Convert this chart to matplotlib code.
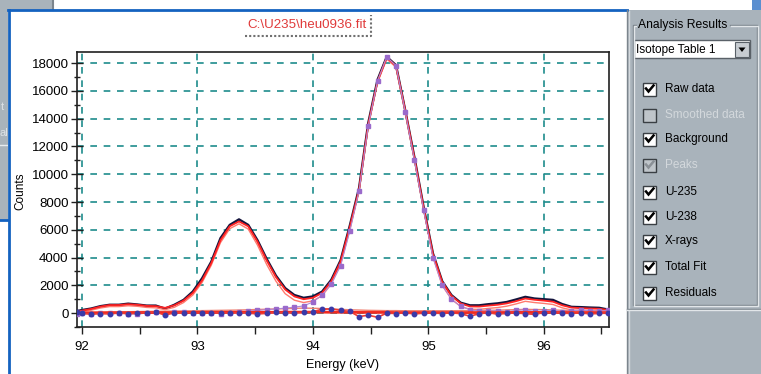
import matplotlib
matplotlib.use("Agg")
import matplotlib.pyplot as plt
from matplotlib.patches import Rectangle, Polygon
from matplotlib.ticker import MultipleLocator

plt.rcParams['font.family'] = ['Liberation Sans', 'DejaVu Sans']

# channel energies (keV)
energy = [91.96, 92.00, 92.08, 92.16, 92.24, 92.32, 92.40, 92.48, 92.56, 92.64, 92.72,
          92.80, 92.88, 92.96, 93.04, 93.12, 93.20, 93.28, 93.36, 93.44, 93.52,
          93.60, 93.68, 93.76, 93.84, 93.92, 94.00, 94.08, 94.16, 94.24, 94.32,
          94.40, 94.48, 94.56, 94.64, 94.72, 94.80, 94.88, 94.96, 95.04, 95.12,
          95.20, 95.28, 95.36, 95.44, 95.52, 95.60, 95.68, 95.76, 95.84, 95.92,
          96.00, 96.08, 96.16, 96.24, 96.32, 96.40, 96.48, 96.56]

raw = [150, 220, 330, 500, 600, 600, 680, 620, 540, 540, 320,
       600, 950, 1550, 2500, 3700, 5400, 6350, 6750, 6350, 5250,
       3900, 2700, 1800, 1300, 1100, 1200, 1550, 2400, 3800, 6300,
       9000, 13700, 16800, 18450, 17850, 14600, 11200, 7600, 4300, 2300,
       1300, 750, 560, 560, 640, 700, 800, 980, 1170, 1050,
       1000, 950, 650, 450, 430, 400, 380, 250]

total_fit = [100, 180, 300, 470, 580, 580, 640, 600, 520, 500, 380,
             560, 900, 1450, 2350, 3600, 5250, 6250, 6600, 6250, 5150,
             3800, 2600, 1700, 1200, 1000, 1100, 1450, 2300, 3700, 6200,
             8900, 13600, 16700, 18400, 17800, 14600, 11150, 7550, 4250, 2250,
             1250, 700, 480, 470, 540, 600, 700, 860, 1050, 960,
             900, 820, 560, 400, 360, 330, 310, 220]

u235 = [30, 100, 210, 370, 470, 470, 530, 490, 410, 380, 250,
        420, 760, 1300, 2200, 3450, 5080, 6080, 6430, 6050, 4900,
        3500, 2300, 1400, 930, 760, 880, 1250, 2100, 3500, 6000,
        8750, 13450, 16600, 18300, 17700, 14450, 11000, 7400, 4050, 2000,
        1000, 480, 280, 270, 340, 400, 500, 660, 850, 760,
        700, 620, 380, 230, 200, 190, 170, 120]

u238 = [40, 50, 60, 70, 80, 90, 100, 110, 120, 130, 140,
        150, 160, 170, 180, 190, 200, 210, 220, 240, 260,
        280, 300, 320, 340, 360, 350, 330, 300, 270, 240,
        220, 200, 190, 180, 180, 170, 170, 170, 170, 170,
        170, 180, 180, 190, 200, 210, 230, 250, 270, 260,
        250, 230, 200, 180, 170, 160, 150, 140]

xrays = [-50, -20, -60, 30, -10, 20, -40, -90, 20, 80, -40,
         90, 60, 20, -10, 30, -50, 40, 70, 140, 200,
         250, 300, 360, 430, 520, 800, 1300, 2100, 3400, 5900,
         8800, 13500, 16700, 18450, 17800, 14500, 11000, 7400, 4000, 2000,
         1000, 480, 250, 150, 120, 180, 90, 200, 230, 120,
         150, 220, 100, 160, 230, 180, 120, 200]

background = [0, 10, 20, 20, 30, 30, 30, 40, 40, 40, 40,
              40, 50, 50, 50, 50, 50, 60, 60, 60, 60,
              60, 60, 70, 70, 70, 70, 70, 60, 60, 60,
              50, 50, 50, 50, 40, 40, 40, 40, 40, 40,
              40, 40, 40, 40, 40, 40, 40, 50, 50, 50,
              50, 50, 40, 40, 40, 40, 30, 30]

residuals = [50, 0, -80, -30, -60, 20, -50, -10, 40, 80, -150,
             30, 40, 20, -20, 10, 30, -10, 40, 0, -60,
             -20, 50, 30, 20, 60, 100, 280, 300, 200, 120,
             -250, -150, -300, 0, -30, 20, -60, 0, 10, -30,
             20, -40, -220, -50, 30, -80, -20, 10, -40, -90,
             30, 60, 0, -30, 20, -60, -20, 10]

x_ticks = [92, 93, 94, 95, 96]
y_ticks = [0, 2000, 4000, 6000, 8000, 10000, 12000, 14000, 16000, 18000]

check_labels = ['Raw data', 'Smoothed data', 'Background', 'Peaks', 'U-235',
                'U-238', 'X-rays', 'Total Fit', 'Residuals']
check_state = [True, False, True, True, True, True, True, True, True]
check_enabled = [True, False, True, False, True, True, True, True, True]

W, H = 761, 374
fig = plt.figure(figsize=(W / 100, H / 100), dpi=100)
fig.patch.set_facecolor('white')

# window chrome drawn in pixel coordinates
ui = fig.add_axes([0, 0, 1, 1], zorder=0)
ui.set_xlim(0, W)
ui.set_ylim(H, 0)
ui.axis('off')

panel = '#a9b3bb'
ui.add_patch(Rectangle((0, 0), 53, 10, fc=panel, ec='none'))
ui.add_patch(Rectangle((0, 0), 8, 220, fc=panel, ec='none'))
ui.plot([53, 53], [0, 10], color='#7c858d', lw=1.5)
ui.text(1, 107, 't', color='#dde2e6', fontsize=8, va='center')
ui.text(0, 133, 'al', color='#dde2e6', fontsize=8, va='center')
ui.plot([0, 8], [145, 145], color='#e8ecef', lw=1)
ui.plot([0, 8], [220, 220], color='#1462c0', lw=2)
ui.plot([8.5, 8.5], [10, H], color='#1462c0', lw=2)
ui.plot([8, 627], [10, 10], color='#1462c0', lw=2)
ui.add_patch(Rectangle((752, 0), 9, 10, fc='#5b8fd0', ec='none'))

# right panel
ui.add_patch(Rectangle((627, 10), W - 627, H - 10, fc=panel, ec='none'))
ui.plot([627, 627], [10, H], color='#7c858d', lw=1)
ui.plot([628.5, 628.5], [11, H], color='#d4d9dd', lw=1)
gb_l, gb_r, gb_t, gb_b = 633, 757, 25, 305
for dx, col in ((0, '#7c858d'), (1, '#e2e6e9')):
    ui.plot([gb_l + 4 + dx, gb_l + dx, gb_l + dx, gb_r + dx, gb_r + dx, 730 + dx],
            [gb_t + dx, gb_t + dx, gb_b + dx, gb_b + dx, gb_t + dx, gb_t + dx],
            color=col, lw=1)
ui.plot([627, W], [309, 309], color='#7c858d', lw=1)
ui.plot([627, W], [310, 310], color='#e2e6e9', lw=1)
ui.text(638, gb_t, 'Analysis Results', fontsize=8.7, va='center', ha='left',
        color='black', bbox=dict(fc=panel, ec='none', pad=0.5))

# combo box
ui.add_patch(Rectangle((634, 40), 116, 18, fc='white', ec='#5a6168', lw=1))
ui.add_patch(Rectangle((735, 42), 14, 15, fc='#c8cdd2', ec='#5a6168', lw=0.8))
ui.add_patch(Polygon([[738.5, 47.5], [745.5, 47.5], [742, 52]], closed=True,
                     fc='black', ec='none'))
ui.text(636, 49.5, 'Isotope Table 1', fontsize=8.5, va='center', ha='left')

row_y = [89, 115, 139, 165, 192, 217, 241, 267, 293]
for label, yc, on, enabled in zip(check_labels, row_y, check_state, check_enabled):
    fc = 'white' if enabled else '#bfc5ca'
    ui.add_patch(Rectangle((643, yc - 6.5), 13, 13, fc=fc, ec='#3a3f44', lw=1))
    if on:
        ui.plot([646, 648.5, 653.5], [yc - 0.5, yc + 2.5, yc - 3.5],
                color='black' if enabled else '#8a9096', lw=1.8,
                solid_joinstyle='miter')
    ui.text(665, yc, label, fontsize=8.5, va='center', ha='left',
            color='black' if enabled else '#d3d8dc')

# chart title box
ui.add_patch(Rectangle((245, 15), 125, 20, fc='white', ec='none'))
ui.plot([245, 371, 371], [35.5, 35.5, 15], color='#707070', lw=1.5,
        linestyle=(0, (1, 1)))
ui.text(307, 24.5, 'C:\\U235\\heu0936.fit', color='#e03a3a', fontsize=9.6,
        ha='center', va='center')

# spectrum plot
ax = fig.add_axes([77 / W, 1 - 327 / H, 532 / W, 275 / H], zorder=2)
ax.set_facecolor('white')

ax.plot(energy, raw, color='#14143c', lw=1.7, zorder=3)
ax.plot(energy, u238, color='#f08070', lw=1.0, zorder=3)
ax.plot(energy, u235, color='#ff7a6e', lw=1.0, zorder=4)
ax.plot(energy, total_fit, color='#ff2222', lw=1.3, zorder=5)
ax.plot(energy, xrays, color='#b08ad8', lw=0.8, marker='s', ms=3.0,
        mfc='#9a6acb', mec='#9a6acb', zorder=6)
ax.plot(energy, background, color='#f02a20', lw=2.0, zorder=6)
ax.plot(energy, residuals, color='#f03a30', lw=1.2, marker='o', ms=3.2,
        mfc='#3a3aa8', mec='#3a3aa8', zorder=7)

ax.set_xlim(91.957, 96.565)
ax.set_ylim(-1000, 18800)
ax.set_xticks(x_ticks)
ax.set_yticks(y_ticks)
ax.xaxis.set_minor_locator(MultipleLocator(0.5))
ax.yaxis.set_minor_locator(MultipleLocator(1000))
ax.tick_params(axis='x', which='both', direction='out', length=5, width=1,
               labelsize=9.5, pad=5, color='#202020')
ax.tick_params(axis='y', which='major', direction='inout', length=8, width=1,
               labelsize=9.5, pad=2, color='#202020')
ax.tick_params(axis='y', which='minor', direction='inout', length=5, width=1,
               color='#202020')
ax.grid(which='major', color='#1e8c8c', linestyle=(0, (4, 4)), linewidth=1.2)
for s in ax.spines.values():
    s.set_color('#202020')
    s.set_linewidth(1.2)

ax.set_xlabel('Energy (keV)', fontsize=9)
ax.xaxis.set_label_coords(0.5, -0.116)
ax.set_ylabel('Counts', fontsize=8.5)
ax.yaxis.set_label_coords(-0.095, 0.495)

fig.savefig('out.png', dpi=100)
